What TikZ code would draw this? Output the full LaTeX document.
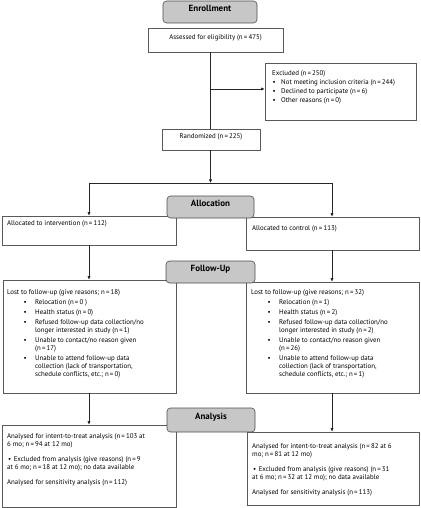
\documentclass[tikz,border=0pt]{standalone}
\usepackage{fontspec}
\setmainfont{PT Sans}
\usetikzlibrary{fit,arrows.meta}
\newcommand\bul{\hspace*{16.5bp}\makebox[11.5bp][l]{\textbullet}}
\newcommand\cont{\hspace*{28bp}}
\newcommand\ebul{\hspace*{0.5bp}\makebox[8.5bp][l]{\textbullet}}
\newcommand\abul{\hspace*{1bp}\textbullet\hspace{2.5bp}}
\tikzset{
  box/.style={draw=black!65, line width=0.6pt, inner sep=0pt, fill=white, font=\fontsize{6.9}{8}\selectfont},
  hdr/.style={draw=black!70, line width=0.6pt, fill=black!22, rounded corners=3.5bp, inner sep=0pt, font=\bfseries\fontsize{9}{10}\selectfont},
  txt/.style={inner sep=0pt, align=left, anchor=north west, font=\fontsize{6.9}{8.2}\selectfont},
  conn/.style={draw=black!85, line width=0.6pt},
  arr/.style={conn, -{Latex[length=3.5bp,width=3.2bp]}}
}
\begin{document}
\begin{tikzpicture}[x=1bp,y=-1bp]
\useasboundingbox (0,0) rectangle (420,508);
% content boxes
\node[box, fit={(148,28) (283,52)}] (assess) {Assessed for eligibility (n\,=\,475)};
\node[box, fit={(265,63) (416,120)}] (excl) {};
\node[txt] (excltxt) at (272,70.3) {Excluded (n\,=\,250)\\[0.8bp]
\ebul Not meeting inclusion criteria (n\,=\,244)\\[0.8bp]
\ebul Declined to participate (n\,=\,6)\\[0.8bp]
\ebul Other reasons (n\,=\,0)};
\node[box, fit={(162,129) (260,150)}] (rand) {Randomized (n\,=\,225)};
\node[box, fit={(2,216) (176,245)}] (allocL) {};
\node[txt, anchor=west] (allocLtxt) at (7,224) {Allocated to intervention (n\,=\,112)};
\node[box, fit={(246,217) (419,250)}] (allocR) {};
\node[txt, anchor=west] (allocRtxt) at (252,228.5) {Allocated to control (n\,=\,113)};
\node[box, fit={(3,280) (176,393)}] (fuL) {};
\node[txt] (fuLtxt) at (7,289.3) {Lost to follow-up (give reasons; n\,=\,18)\\[1.8bp]
\bul Relocation (n\,=\,0 )\\[1.8bp]
\bul Health status (n\,=\,0)\\[1.8bp]
\bul Refused follow-up data collection/no\\
\cont longer interested in study (n\,=\,1)\\[1.8bp]
\bul Unable to contact/no reason given\\
\cont (n\,=\,17)\\[1.8bp]
\bul Unable to attend follow-up data\\
\cont collection (lack of transportation,\\
\cont schedule conflicts, etc.; n\,=\,0)};
\node[box, fit={(246,282) (419,393)}] (fuR) {};
\node[txt] (fuRtxt) at (251,289.3) {Lost to follow-up (give reasons; n\,=\,32)\\[1.8bp]
\bul Relocation (n\,=\,1)\\[1.8bp]
\bul Health status (n\,=\,2)\\[1.8bp]
\bul Refused follow-up data collection/no\\
\cont longer interested in study (n\,=\,2)\\[1.8bp]
\bul Unable to contact/no reason given\\
\cont (n\,=\,26)\\[1.8bp]
\bul Unable to attend follow-up data\\
\cont collection (lack of transportation,\\
\cont schedule conflicts, etc.; n\,=\,1)};
\node[box, fit={(2,425) (176,507)}] (anL) {};
\node[txt] (anLtxt) at (7,433.5) {Analysed for intent-to-treat analysis (n\,=\,103 at\\
6 mo; n\,=\,94 at 12 mo)\\[6.5bp]
\abul Excluded from analysis (give reasons) (n\,=\,9\\
at 6 mo; n\,=\,18 at 12 mo); no data available\\[6.5bp]
Analysed for sensitivity analysis (n\,=\,112)};
\node[box, fit={(247,432) (419,505)}] (anR) {};
\node[txt] (anRtxt) at (252,443.5) {Analysed for intent-to-treat analysis (n\,=\,82 at 6\\
mo; n\,=\,81 at 12 mo)\\[6.5bp]
\abul Excluded from analysis (give reasons) (n\,=\,31\\
at 6 mo; n\,=\,32 at 12 mo); no data available\\[6.5bp]
Analysed for sensitivity analysis (n\,=\,113)};
% headers
\node[hdr, fit={(163,1) (257,23)}] (enroll) {Enrollment};
\node[hdr, fit={(167,196) (254,218)}] (allochdr) {Allocation};
\node[hdr, fit={(166,261) (255,283)}] (fuhdr) {Follow-Up};
\node[hdr, fit={(167,408) (255,432)}] (anhdr) {Analysis};
% connectors
\coordinate (b1) at (210.5,89);
\coordinate (split) at (210.5,183);
\coordinate (lsplit) at (89,183);
\coordinate (rsplit) at (332,183);
\draw[conn] (assess.south -| b1) -- (rand.north -| b1);
\draw[arr] (b1) -- (b1 -| excl.west);
\draw[arr] (rand.south -| split) -- (split);
\draw[conn] (lsplit) -- (rsplit);
\draw[arr] (lsplit) -- (lsplit |- allocL.north);
\draw[arr] (rsplit) -- (rsplit |- allocR.north);
\draw[arr] (allocL.south -| lsplit) -- (fuL.north -| lsplit);
\draw[arr] (allocR.south -| rsplit) -- (fuR.north -| rsplit);
\draw[arr] (fuL.south -| lsplit) -- (anL.north -| lsplit);
\draw[arr] (fuR.south -| rsplit) -- (anR.north -| rsplit);
\end{tikzpicture}
\end{document}
